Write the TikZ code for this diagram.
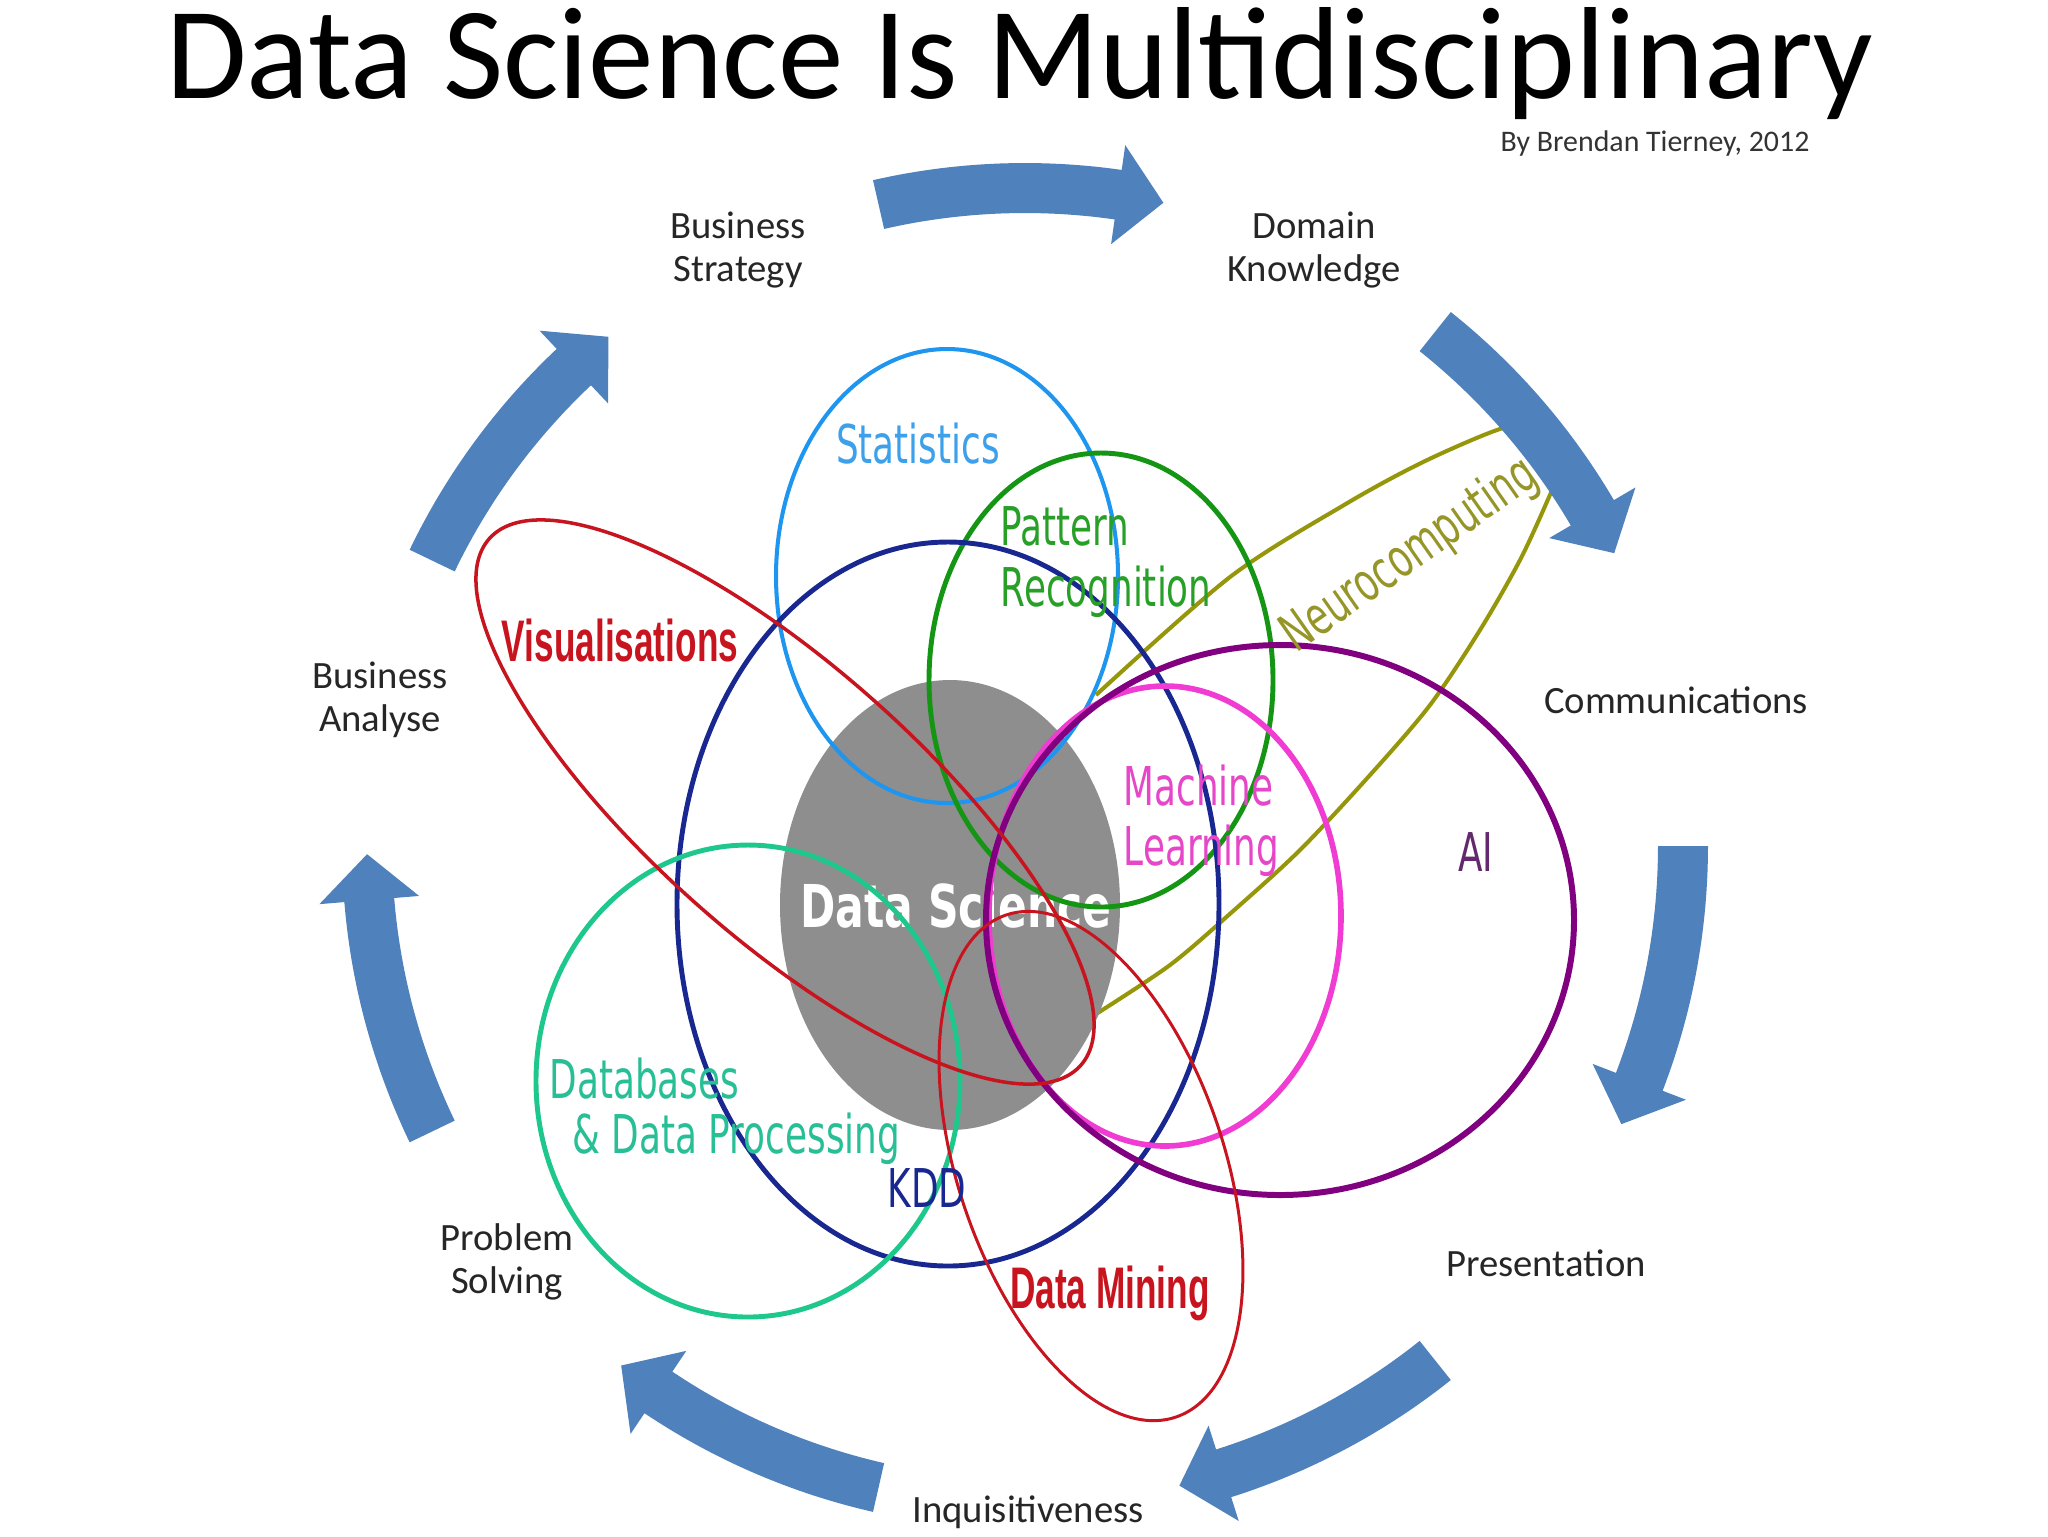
\documentclass[tikz,border=0pt]{standalone}
\usepackage{fontspec}
\setmainfont{Carlito}
\newfontfamily\labfont[FakeStretch=0.67]{DejaVu Sans}
\newfontfamily\dsfont[FakeStretch=0.72]{DejaVu Sans}
\newfontfamily\redfont[FakeStretch=0.6]{Liberation Sans}
\definecolor{arrowblue}{RGB}{79,129,189}
\definecolor{statline}{RGB}{30,150,240}
\definecolor{stattext}{RGB}{60,160,235}
\definecolor{patline}{RGB}{20,150,20}
\definecolor{pattext}{RGB}{40,160,40}
\definecolor{kddc}{RGB}{25,40,145}
\definecolor{dbline}{RGB}{30,200,140}
\definecolor{dbtext}{RGB}{40,190,150}
\definecolor{mlline}{RGB}{240,60,210}
\definecolor{mltext}{RGB}{230,70,200}
\definecolor{ailine}{RGB}{128,0,128}
\definecolor{aitext}{RGB}{100,40,110}
\definecolor{neuline}{RGB}{150,150,10}
\definecolor{neutext}{RGB}{150,150,40}
\definecolor{redc}{RGB}{200,20,30}
\definecolor{dsgray}{RGB}{142,142,142}
\newcommand\ringarrow[3]{%
  \fill[arrowblue] plot[domain=#1:#2,samples=30] ({1025+683*cos(\x)},{846-683*sin(\x)})
    -- ({1025+708*cos(#2)},{846-708*sin(#2)})
    -- ({1025+658*cos(#3)},{846-658*sin(#3)})
    -- ({1025+608*cos(#2)},{846-608*sin(#2)})
    -- plot[domain=#2:#1,samples=30] ({1025+633*cos(\x)},{846-633*sin(\x)}) -- cycle;}
\begin{document}
\begin{tikzpicture}[x=0.1mm,y=-0.1mm,
  blk/.style={font=\fontsize{11}{12.2}\selectfont, align=center, text=black!85, inner sep=0pt},
  clab/.style={font=\labfont\fontsize{15.2}{17.2}\selectfont, inner sep=0pt},
  redlab/.style={font=\redfont\bfseries\fontsize{16.7}{19}\selectfont, text=redc, inner sep=0pt},
  venn/.style={line width=1.4pt}]
\fill[white] (0,0) rectangle (2048,1536);
\useasboundingbox (0,0) rectangle (2048,1536);

% Neurocomputing (open outline, partly hidden)
\draw[neuline, line width=1.15pt] plot[smooth, tension=0.5] coordinates {
  (1096,695) (1230,577) (1344,505) (1421,463) (1497,430) (1545,420) (1568,450)
  (1549,497) (1520,560) (1480,630) (1430,705) (1370,775) (1300,850) (1232,912) (1170,965) (1096,1014)};

% Data Science core
\fill[dsgray] (950,905) ellipse [x radius=17mm, y radius=22.5mm];
\node[font=\dsfont\bfseries\fontsize{16.8}{19}\selectfont, text=white, inner sep=0pt] (ds) at (956,905) {Data Science};

% Venn outlines
\draw[venn, statline, line width=1.15pt] (947,576) ellipse [x radius=17.1mm, y radius=22.7mm];
\draw[venn, patline] (1101,680) ellipse [x radius=17.2mm, y radius=22.7mm];
\draw[venn, kddc] (948,904) ellipse [x radius=27.1mm, y radius=36.2mm];
\draw[venn, dbline] (748,1081) ellipse [x radius=21.2mm, y radius=23.6mm];
\draw[venn, mlline, line width=1.6pt] (1165,916) ellipse [x radius=17.6mm, y radius=23mm];
\draw[venn, ailine, line width=1.7pt] (1280,920) ellipse [x radius=29.4mm, y radius=27.5mm];
\draw[redc, line width=1pt, rotate around={-41.7:(785,802)}] (785,802) ellipse [x radius=39.6mm, y radius=13.5mm];
\draw[redc, line width=0.85pt, rotate around={18.7:(1091,1166)}] (1091,1166) ellipse [x radius=13.3mm, y radius=26.5mm];

% coloured labels
\node[clab, text=stattext] (stat) at (918,444) {Statistics};
\node[clab, text=pattext, align=left, anchor=west] (pat) at (1000,562) {Pattern\\Recognition};
\node[clab, text=mltext, align=left, anchor=west] (ml) at (1123,821) {Machine\\Learning};
\node[clab, text=aitext] (ai) at (1476,852) {AI};
\node[clab, text=kddc] (kdd) at (927,1188) {KDD};
\node[clab, text=dbtext, anchor=west] (db1) at (549,1079) {Databases};
\node[clab, text=dbtext, anchor=west] (db2) at (572,1139) {\&~Data Processing};
\node[clab, text=neutext, rotate=35] (neu) at (1410,556) {Neurocomputing};
\node[redlab] (vis) at (620,640) {Visualisations};
\node[redlab] (dm) at (1110,1293) {Data Mining};

% cycle arrows
\ringarrow{102.86}{81.86}{77.86}
\ringarrow{51.43}{30.43}{26.43}
\ringarrow{0}{-21}{-25}
\ringarrow{-51.43}{-72.43}{-76.43}
\ringarrow{-102.86}{-123.86}{-127.86}
\ringarrow{-154.29}{-175.29}{-179.29}
\ringarrow{-205.71}{-226.71}{-230.71}

% cycle labels
\node[blk] (bs) at (738,250) {Business\\Strategy};
\node[blk] (dk) at (1314,250) {Domain\\Knowledge};
\node[blk] (ba) at (380,700) {Business\\Analyse};
\node[blk] (com) at (1676,700) {Communications};
\node[blk] (pres) at (1546,1263) {Presentation};
\node[blk] (ps) at (507,1262) {Problem\\Solving};
\node[blk] (inq) at (1028,1512) {Inquisitiveness};

% title
\node[anchor=base, inner sep=0pt, font=\fontsize{37.3}{40}\selectfont] (title) at (1020,98) {Data Science Is Multidisciplinary};
\node[anchor=base, inner sep=0pt, font=\fontsize{8.5}{10}\selectfont, text=black!80] (by) at (1655,151) {By Brendan Tierney, 2012};
\end{tikzpicture}
\end{document}
